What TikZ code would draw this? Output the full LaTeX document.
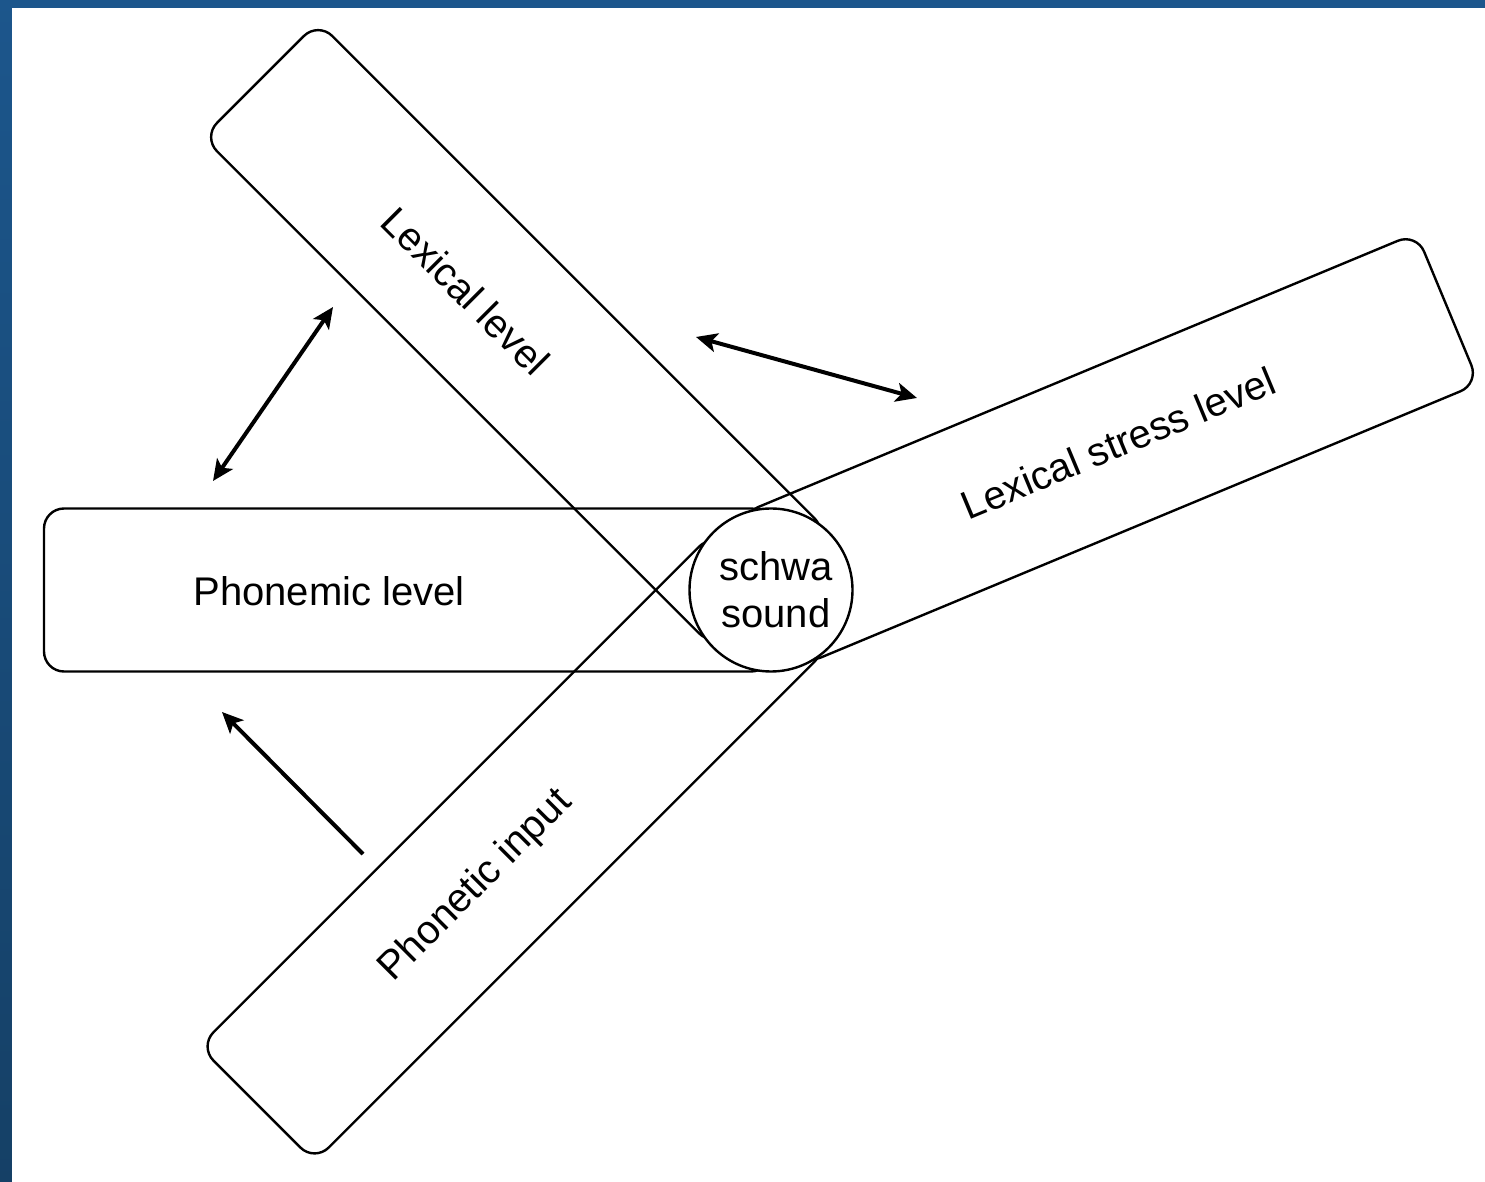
\documentclass[tikz,border=0pt]{standalone}
\usepackage{fontspec}
\setmainfont{Liberation Sans}
\usetikzlibrary{calc,arrows.meta}
\definecolor{bgtop}{RGB}{28,86,140}
\definecolor{bgbot}{RGB}{21,64,102}
\tikzset{
  band/.style={draw, line width=2.4pt, rounded corners=20pt, minimum height=163pt, inner sep=0pt},
  lbl/.style={font=\fontsize{40}{47}\selectfont, inner sep=0pt},
  hub/.style={circle, draw, fill=white, line width=2.4pt, minimum size=163pt, inner sep=0pt, align=center, font=\fontsize{40}{47}\selectfont},
  arr/.style={line width=4pt, -{Stealth[length=21pt,width=19pt,inset=5pt]}},
  darr/.style={line width=4pt, {Stealth[length=21pt,width=19pt,inset=5pt]}-{Stealth[length=21pt,width=19pt,inset=5pt]}}
}
\begin{document}
\begin{tikzpicture}[x=1pt,y=1pt]
\useasboundingbox (0,0) rectangle (1485,1181);
\shade[top color=bgtop, bottom color=bgbot] (-5,-5) rectangle (1490,1186);
\fill[white] (12,-5) rectangle (1490,1173);
\coordinate (C) at (771,591);
% bands
\node[band, minimum width=727pt, rotate=180] (phonemic) at ($(C)+(180:363.5)$) {};
\node[band, minimum width=722pt, rotate=135] (lexical) at ($(C)+(135:361)$) {};
\node[band, minimum width=733pt, rotate=22.6] (stress) at ($(C)+(22.6:366.5)$) {};
\node[band, minimum width=727pt, rotate=225] (phonetic) at ($(C)+(225:363.5)$) {};
% labels
\node[lbl] (tphonemic) at (329,590) {Phonemic level};
\node[lbl, rotate=-45] (tlexical) at (466,890) {Lexical level};
\node[lbl, rotate=22.6] (tstress) at (1118,738) {Lexical stress level};
\node[lbl, rotate=45] (tphonetic) at (476,295) {Phonetic input};
% hub
\node[hub] (schwa) at (C) {\hspace*{10pt}schwa\\\hspace*{10pt}sound};
% arrows
\coordinate (a1s) at (213,700);
\coordinate (a1e) at (333,874);
\coordinate (a2s) at (696,844);
\coordinate (a2e) at (917,783);
\coordinate (a3s) at (363,327);
\coordinate (a3e) at (222,469);
\draw[darr] (a1s) -- (a1e);
\draw[darr] (a2s) -- (a2e);
\draw[arr] (a3s) -- (a3e);
\end{tikzpicture}
\end{document}
